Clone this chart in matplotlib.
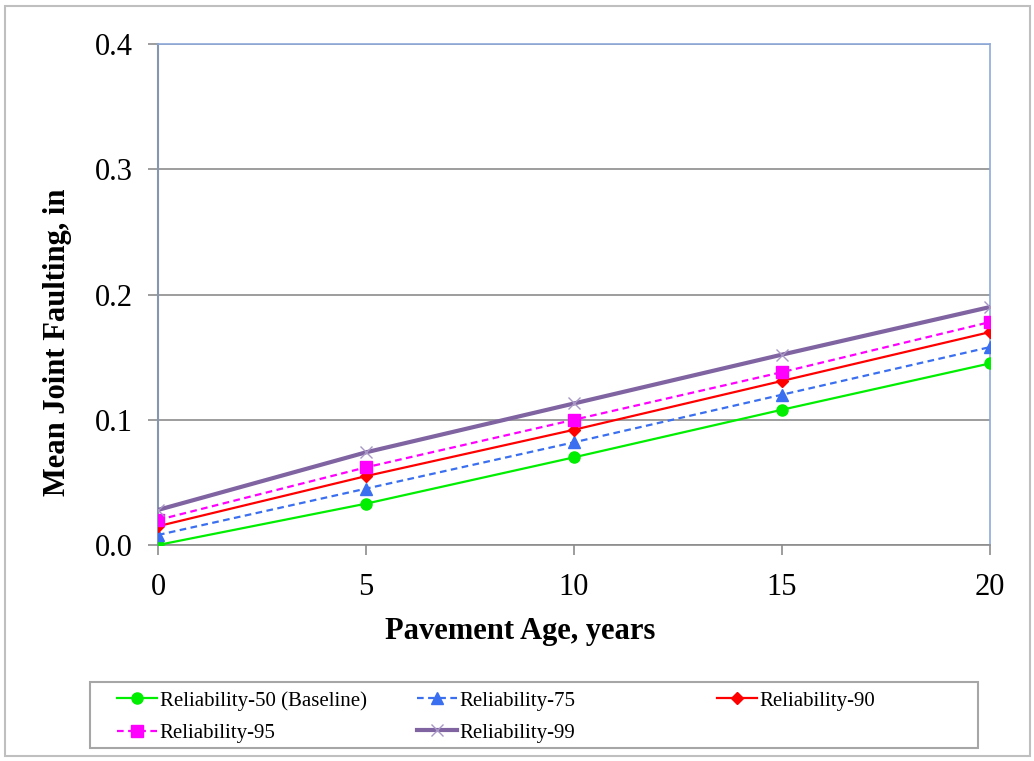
import matplotlib
matplotlib.use("Agg")
import matplotlib.pyplot as plt
from matplotlib.patches import Rectangle

years = [0, 5, 10, 15, 20]
rel50 = [0.000, 0.033, 0.070, 0.108, 0.145]
rel75 = [0.008, 0.045, 0.082, 0.120, 0.158]
rel90 = [0.015, 0.055, 0.092, 0.131, 0.170]
rel95 = [0.020, 0.062, 0.100, 0.138, 0.178]
rel99 = [0.028, 0.074, 0.113, 0.152, 0.190]
labels = ["Reliability-50 (Baseline)", "Reliability-75", "Reliability-90",
          "Reliability-95", "Reliability-99"]
xticks = [0, 5, 10, 15, 20]
yticks = [0.0, 0.1, 0.2, 0.3, 0.4]

plt.rcParams['font.family'] = ['Liberation Serif', 'DejaVu Serif']

fig = plt.figure(figsize=(10.34, 7.61), dpi=100)
W, H = 1034, 761
def fx(px): return px / W
def fy(py): return 1 - py / H

ax = fig.add_axes([fx(158), fy(545), (990 - 158) / W, (545 - 44) / H])

# outer chart border
fig.patches.append(Rectangle((fx(5), fy(756)), (1030 - 5) / W, (756 - 6) / H,
                             transform=fig.transFigure, fill=False,
                             edgecolor='#BFBFBF', linewidth=1.5))

h50, = ax.plot(years, rel50, color='#00EE00', lw=1.6, marker='o', ms=8, label=labels[0], zorder=3)
h75, = ax.plot(years, rel75, color='#3A6FF0', lw=1.6, ls=(0, (3, 2)), marker='^', ms=8, label=labels[1], zorder=3)
h90, = ax.plot(years, rel90, color='#FF0000', lw=1.6, marker='D', ms=6, label=labels[2], zorder=3)
h95, = ax.plot(years, rel95, color='#FF00FF', lw=1.6, ls=(0, (3, 2)), marker='s', ms=8, label=labels[3], zorder=3)
h99, = ax.plot(years, rel99, color='#8064A2', lw=3, marker='x', ms=9, mew=1, mec='#A897C4', label=labels[4], zorder=3)

ax.set_xlim(0, 20)
ax.set_ylim(0, 0.4)
ax.set_xticks(xticks)
ax.set_xticklabels([str(t) for t in xticks])
ax.set_yticks(yticks)
ax.set_yticklabels([f"{t:.1f}" for t in yticks])
ax.grid(axis='y', color='#8C8C8C', lw=1.2)
ax.set_axisbelow(True)
ax.tick_params(axis='both', labelsize=22, color='#8C8C8C', length=7.2, width=1.2)
ax.tick_params(axis='y', pad=11)
ax.tick_params(axis='x', pad=13)
for s in ['top', 'right']:
    ax.spines[s].set_color('#8EAADB')
    ax.spines[s].set_linewidth(1.2)
ax.spines['left'].set_color('#8496B0')
ax.spines['left'].set_linewidth(1.5)
ax.spines['bottom'].set_color('#8C8C8C')
ax.spines['bottom'].set_linewidth(1.2)

ax.set_xlabel("Pavement Age, years", fontsize=22, fontweight='bold')
ax.set_ylabel("Mean Joint Faulting, in", fontsize=22, fontweight='bold')
ax.xaxis.label.set_va('center')
ax.yaxis.label.set_va('center')
ax.xaxis.set_label_coords((520 - 158) / 832, (545 - 632) / 501)
ax.yaxis.set_label_coords((57 - 158) / 832, (545 - 342) / 501)

# legend: frame + three columns (row-wise order like the reference)
fig.patches.append(Rectangle((fx(90), fy(748)), (978 - 90) / W, (748 - 682) / H,
                             transform=fig.transFigure, fill=False,
                             edgecolor='#A6A6A6', linewidth=1.5))
columns = [([h50, h95], [labels[0], labels[3]], 117),
           ([h75, h99], [labels[1], labels[4]], 417),
           ([h90], [labels[2]], 717)]
for hs, ls, x0 in columns:
    lg = fig.legend(hs, ls, loc='upper left', bbox_to_anchor=(fx(x0), fy(691)),
                    frameon=False, fontsize=15, handlelength=1.9, handletextpad=0.15,
                    borderaxespad=0, borderpad=0, labelspacing=0.6)

fig.savefig("out.png", dpi=100)
